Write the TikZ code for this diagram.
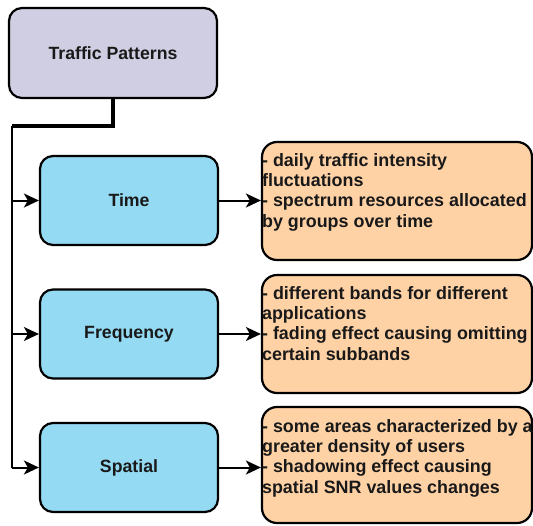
\documentclass[tikz,border=0pt]{standalone}
\usepackage{fontspec}
\setmainfont{Liberation Sans}
\usetikzlibrary{arrows.meta}
\definecolor{lavender}{RGB}{208,206,226}
\definecolor{skyfill}{RGB}{148,218,242}
\definecolor{peach}{RGB}{255,210,166}
\tikzset{
  box/.style={draw=black, line width=2.2pt, rounded corners=13pt, inner sep=0pt,
    font=\fontsize{17.7}{20.3}\selectfont\bfseries, text=black!90},
  rootbox/.style={box, fill=lavender, minimum width=208pt, minimum height=90pt},
  catbox/.style={box, fill=skyfill, minimum width=178pt, minimum height=89pt},
  notebox/.style={box, fill=peach, minimum width=270pt, minimum height=118pt, rounded corners=15pt},
  notetext/.style={anchor=north west, inner sep=0pt, align=left,
    font=\fontsize{17.9}{20.3}\selectfont\bfseries, text=black!90},
  link/.style={line width=2pt, -{Stealth[length=15pt,width=14pt,inset=4pt]}},
}
\begin{document}
\begin{tikzpicture}[x=1pt,y=-1pt]
\useasboundingbox (0,0) rectangle (533,525);

% root and categories
\node[rootbox] (tp) at (113,53) {Traffic Patterns};
\node[catbox] (time) at (129,200.5) {Time};
\node[catbox] (freq) at (129,334) {Frequency};
\node[catbox] (spat) at (129,467.5) {Spatial};

% note boxes
\node[notebox] (ntime) at (397,201) {};
\node[notebox] (nfreq) at (397,334) {};
\node[notebox, minimum height=116pt] (nspat) at (397,465) {};

\node[notetext] (ttime) at ([shift={(1,12.2)}]ntime.north west)
  {- daily traffic intensity\\fluctuations\\- spectrum resources allocated\\by groups over time};
\node[notetext] (tfreq) at ([shift={(1,12.2)}]nfreq.north west)
  {- different bands for different\\applications\\- fading effect causing omitting\\certain subbands};
\node[notetext] (tspat) at ([shift={(1,13.2)}]nspat.north west)
  {- some areas characterized by a\\greater density of users\\- shadowing effect causing\\spatial SNR values changes};

% trunk from the root down the left side
\coordinate (bend) at (113,126);
\coordinate (trunk) at (12,126);
\draw[line width=3.6pt] (tp.south) -- (bend) -- (trunk);
\draw[line width=2.6pt] (trunk) -- (trunk |- time.west);
\draw[line width=2.2pt] (trunk |- time.west) -- (trunk |- freq.west);
\draw[line width=2pt] (trunk |- freq.west) -- (trunk |- spat.west);

% branches into the categories
\draw[link] (trunk |- time.west) -- (time.west);
\draw[link] (trunk |- freq.west) -- (freq.west);
\draw[link] (trunk |- spat.west) -- (spat.west);

% categories to their notes
\draw[link] (time.east) -- (time.east -| ntime.west);
\draw[link] (freq.east) -- (freq.east -| nfreq.west);
\draw[link] (spat.east) -- (spat.east -| nspat.west);
\end{tikzpicture}
\end{document}
